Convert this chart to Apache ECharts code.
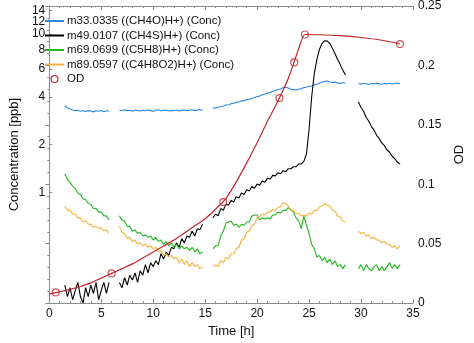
<!DOCTYPE html>
<html><head><meta charset="utf-8">
<script src="https://cdn.jsdelivr.net/npm/echarts@6/dist/echarts.min.js"></script>
<style>html,body{margin:0;padding:0;background:#fff}#c{width:474px;height:343px}</style>
</head><body><div id="c"></div>
<script>
// time samples of the four measurement segments [h]
const T1 = [1.5,1.75,2,2.25,2.5,2.75,3,3.25,3.5,3.75,4,4.25,4.5,4.75,5,5.25,5.5,5.75];
const T2 = [6.75,7,7.25,7.5,7.75,8,8.25,8.5,8.75,9,9.25,9.5,9.75,10,10.25,10.5,10.75,11,11.25,11.5,11.75,12,12.25,12.5,12.75,13,13.25,13.5,13.75,14,14.25,14.5,14.75];
const T3 = [15.75,16,16.25,16.5,16.75,17,17.25,17.5,17.75,18,18.25,18.5,18.75,19,19.25,19.5,19.75,20,20.25,20.5,20.75,21,21.25,21.5,21.75,22,22.25,22.5,22.75,23,23.25,23.5,23.75,24,24.25,24.5,24.75,25,25.25,25.5,25.75,26,26.25,26.5,26.75,27,27.25,27.5,27.75,28,28.25,28.5];
const T4 = [29.75,30,30.25,30.5,30.75,31,31.25,31.5,31.75,32,32.25,32.5,32.75,33,33.25,33.5,33.75];

// m33.0335 ((CH4O)H+) [ppb]
const m33_1 = [3.52,3.42,3.36,3.31,3.28,3.30,3.25,3.29,3.24,3.28,3.26,3.22,3.27,3.25,3.29,3.23,3.27,3.25];
const m33_2 = [3.30,3.27,3.32,3.28,3.30,3.25,3.31,3.28,3.26,3.30,3.27,3.31,3.28,3.25,3.29,3.32,3.27,3.29,3.30,3.26,3.29,3.27,3.31,3.26,3.29,3.31,3.27,3.30,3.32,3.28,3.31,3.33,3.30];
const m33_3 = [3.40,3.41,3.46,3.47,3.51,3.56,3.57,3.63,3.65,3.71,3.72,3.78,3.79,3.85,3.87,3.93,3.97,4.03,4.05,4.13,4.17,4.23,4.27,4.34,4.39,4.46,4.49,4.58,4.61,4.56,4.47,4.45,4.42,4.48,4.51,4.59,4.61,4.67,4.69,4.77,4.81,4.89,4.94,5.03,5.04,4.97,4.93,4.96,4.89,4.87,4.93,4.88];
const m33_4 = [4.86,4.82,4.88,4.84,4.80,4.86,4.83,4.89,4.85,4.81,4.87,4.84,4.88,4.83,4.86,4.90,4.85];

// m49.0107 ((CH4S)H+) [ppb]
const m49_1 = [0.26,0.22,0.25,0.21,0.24,0.27,0.22,0.20,0.25,0.22,0.26,0.23,0.27,0.21,0.24,0.27,0.23,0.27];
const m49_2 = [0.27,0.25,0.29,0.26,0.30,0.28,0.31,0.27,0.32,0.30,0.35,0.31,0.36,0.34,0.37,0.35,0.41,0.38,0.42,0.40,0.45,0.44,0.48,0.45,0.51,0.48,0.53,0.52,0.57,0.53,0.59,0.58,0.63];
const m49_3 = [0.69,0.73,0.71,0.79,0.77,0.84,0.83,0.89,0.87,0.94,0.92,0.99,0.97,1.04,1.02,1.09,1.06,1.13,1.11,1.18,1.16,1.23,1.21,1.28,1.27,1.33,1.31,1.37,1.35,1.41,1.41,1.45,1.45,1.51,1.51,1.57,1.75,2.5,4.0,5.6,6.9,8.0,8.7,9.05,9.0,8.7,8.1,7.5,6.9,6.4,5.9,5.5];
const m49_4 = [3.72,3.43,3.24,2.97,2.81,2.60,2.47,2.29,2.19,2.05,1.97,1.85,1.79,1.69,1.63,1.55,1.51];

// m69.0699 ((C5H8)H+) [ppb]
const m69_1 = [1.31,1.21,1.16,1.09,1.06,0.99,0.97,0.91,0.90,0.85,0.84,0.79,0.79,0.75,0.75,0.71,0.71,0.67];
const m69_2 = [0.71,0.67,0.66,0.61,0.61,0.57,0.58,0.55,0.56,0.53,0.54,0.52,0.53,0.50,0.52,0.49,0.50,0.47,0.49,0.46,0.48,0.45,0.47,0.44,0.46,0.44,0.45,0.43,0.45,0.42,0.44,0.41,0.42];
const m69_3 = [0.44,0.46,0.46,0.53,0.57,0.64,0.65,0.66,0.62,0.63,0.60,0.63,0.62,0.65,0.65,0.71,0.72,0.72,0.67,0.69,0.68,0.69,0.68,0.72,0.72,0.75,0.74,0.77,0.77,0.80,0.77,0.75,0.69,0.66,0.59,0.71,0.62,0.55,0.47,0.44,0.39,0.40,0.37,0.39,0.36,0.38,0.35,0.37,0.34,0.35,0.33,0.35];
const m69_4 = [0.33,0.35,0.32,0.35,0.33,0.32,0.34,0.35,0.32,0.34,0.32,0.34,0.36,0.33,0.35,0.33,0.35];

// m89.0597 ((C4H8O2)H+) [ppb]
const m89_1 = [0.82,0.77,0.77,0.73,0.73,0.69,0.69,0.65,0.66,0.63,0.63,0.60,0.61,0.59,0.60,0.57,0.58,0.55];
const m89_2 = [0.61,0.56,0.55,0.51,0.52,0.49,0.50,0.47,0.48,0.46,0.47,0.45,0.46,0.44,0.45,0.42,0.43,0.40,0.41,0.39,0.40,0.38,0.39,0.36,0.38,0.35,0.37,0.34,0.36,0.34,0.35,0.33,0.34];
const m89_3 = [0.34,0.35,0.34,0.37,0.36,0.39,0.38,0.41,0.41,0.44,0.45,0.50,0.51,0.56,0.57,0.62,0.63,0.69,0.70,0.73,0.72,0.75,0.75,0.78,0.77,0.80,0.81,0.86,0.85,0.82,0.77,0.77,0.73,0.74,0.71,0.72,0.71,0.74,0.73,0.77,0.77,0.81,0.82,0.85,0.83,0.82,0.77,0.76,0.71,0.70,0.66,0.65];
const m89_4 = [0.57,0.55,0.56,0.53,0.54,0.51,0.52,0.50,0.50,0.48,0.49,0.47,0.47,0.45,0.46,0.44,0.46];

// OD measurements and fitted curve
const odTime = [0.62,6.0,16.75,22.15,23.57,24.6,33.75];
const odValue = [0.009,0.025,0.085,0.1725,0.2025,0.226,0.218];
const odCurveTime = [0,1,2,3,4,5,6,7,8,9,10,11,12,13,14,15,16,17,18,19,20,21,22,23,24,24.6,26,28,30,32,33.75];
const odCurveValue = [0.0075,0.0095,0.0115,0.014,0.017,0.021,0.025,0.029,0.033,0.038,0.043,0.048,0.053,0.059,0.065,0.071,0.079,0.088,0.102,0.118,0.135,0.153,0.170,0.189,0.214,0.226,0.2258,0.2250,0.2235,0.2212,0.218];

const concTicks = [1,2,4,6,8,10,12,14];
const CONC_MAX = 15;

const segT = [T1,T2,T3,T4];
const gaps = [6.3,15.2,29.2];
function build(segs){
  const out = [];
  segs.forEach((s,i)=>{
    const t = segT[i];
    for(let j=0;j<Math.min(s.length,t.length);j++) out.push([t[j], s[j]]);
    if(i<gaps.length) out.push([gaps[i], null]);
  });
  return out;
}
const pair = (a,b)=>a.map((v,i)=>[v,b[i]]);

const FONT = 'Liberation Sans, Arial, sans-serif';
const axisCol = '#8c8c8c';
const RED = '#c0272d';
const chart = echarts.init(document.getElementById('c'));
const lineSeries = (name,color,segs)=>({
  name, type:'line', xAxisIndex:0, yAxisIndex:0, symbol:'none', connectNulls:false,
  lineStyle:{color, width:1.1}, itemStyle:{color}, data: build(segs), z:3
});
chart.setOption({
  animation:false,
  grid:{left:33,right:46,top:5,bottom:38},
  legend:{
    left:39, top:10, orient:'vertical', itemGap:2.5, itemWidth:19, itemHeight:7,
    itemStyle:{opacity:0},
    textStyle:{fontFamily:FONT, fontSize:11.5, color:'#111', padding:[0,0,0,-2]},
    data:[
      {name:'m33.0335 ((CH4O)H+) (Conc)'},
      {name:'m49.0107 ((CH4S)H+) (Conc)'},
      {name:'m69.0699 ((C5H8)H+) (Conc)'},
      {name:'m89.0597 ((C4H8O2)H+) (Conc)'},
      {name:'OD', icon:'circle', itemStyle:{opacity:1, color:'rgba(0,0,0,0)', borderColor:RED, borderWidth:1.2}}
    ]
  },
  xAxis:[
    {type:'value', min:0, max:35, interval:5, position:'bottom',
     name:'Time [h]', nameLocation:'middle', nameGap:21,
     nameTextStyle:{fontFamily:FONT, fontSize:13, color:'#111'},
     axisLine:{lineStyle:{color:axisCol}}, axisTick:{inside:true, length:4, lineStyle:{color:axisCol}},
     minorTick:{show:true, splitNumber:5, length:2, lineStyle:{color:axisCol}},
     axisLabel:{fontFamily:FONT, fontSize:12, color:'#111', margin:5}, splitLine:{show:false}},
    {type:'value', min:0, max:35, interval:5, position:'top',
     axisLine:{lineStyle:{color:axisCol}}, axisTick:{inside:true, length:4, lineStyle:{color:axisCol}},
     minorTick:{show:true, splitNumber:5, length:2, lineStyle:{color:axisCol}},
     axisLabel:{show:false}, splitLine:{show:false}}
  ],
  yAxis:[
    {type:'log', min:0.2, max:CONC_MAX, position:'left',
     name:'Concentration [ppb]', nameLocation:'middle', nameGap:17,
     nameTextStyle:{fontFamily:FONT, fontSize:13, color:'#111'},
     axisLine:{show:true, lineStyle:{color:axisCol}},
     axisTick:{show:true, inside:true, length:3, customValues:concTicks, lineStyle:{color:axisCol}},
     axisLabel:{fontFamily:FONT, fontSize:12, color:'#111', margin:4,
       customValues:concTicks.concat([CONC_MAX]),
       formatter:v=>(Math.abs(v-CONC_MAX)<1e-6?'':String(Math.round(v))),
       hideOverlap:false, showMaxLabel:false, showMinLabel:true},
     splitLine:{show:false}},
    {type:'value', min:0, max:0.25, interval:0.05, position:'right',
     name:'OD', nameLocation:'middle', nameGap:40, nameRotate:90,
     nameTextStyle:{fontFamily:FONT, fontSize:13, color:'#111'},
     axisLine:{show:true, lineStyle:{color:axisCol}},
     axisTick:{inside:true, length:4, lineStyle:{color:axisCol}},
     minorTick:{show:true, splitNumber:5, length:2, lineStyle:{color:axisCol}},
     axisLabel:{fontFamily:FONT, fontSize:12, color:'#111', margin:5,
       formatter:v=>String(+v.toFixed(2))},
     splitLine:{show:false}}
  ],
  series:[
    lineSeries('m33.0335 ((CH4O)H+) (Conc)','#2a86e0',[m33_1,m33_2,m33_3,m33_4]),
    lineSeries('m49.0107 ((CH4S)H+) (Conc)','#000000',[m49_1,m49_2,m49_3,m49_4]),
    lineSeries('m69.0699 ((C5H8)H+) (Conc)','#1fb81f',[m69_1,m69_2,m69_3,m69_4]),
    lineSeries('m89.0597 ((C4H8O2)H+) (Conc)','#f4b23c',[m89_1,m89_2,m89_3,m89_4]),
    {name:'ODcurve', type:'line', xAxisIndex:0, yAxisIndex:1, symbol:'none', smooth:0.2,
     lineStyle:{color:RED, width:1.2}, data:pair(odCurveTime, odCurveValue), z:4},
    {name:'OD', type:'scatter', xAxisIndex:0, yAxisIndex:1, symbol:'circle', symbolSize:7,
     itemStyle:{color:'rgba(0,0,0,0)', borderColor:RED, borderWidth:1.2},
     data:pair(odTime, odValue), z:5}
  ]
});
</script></body></html>
